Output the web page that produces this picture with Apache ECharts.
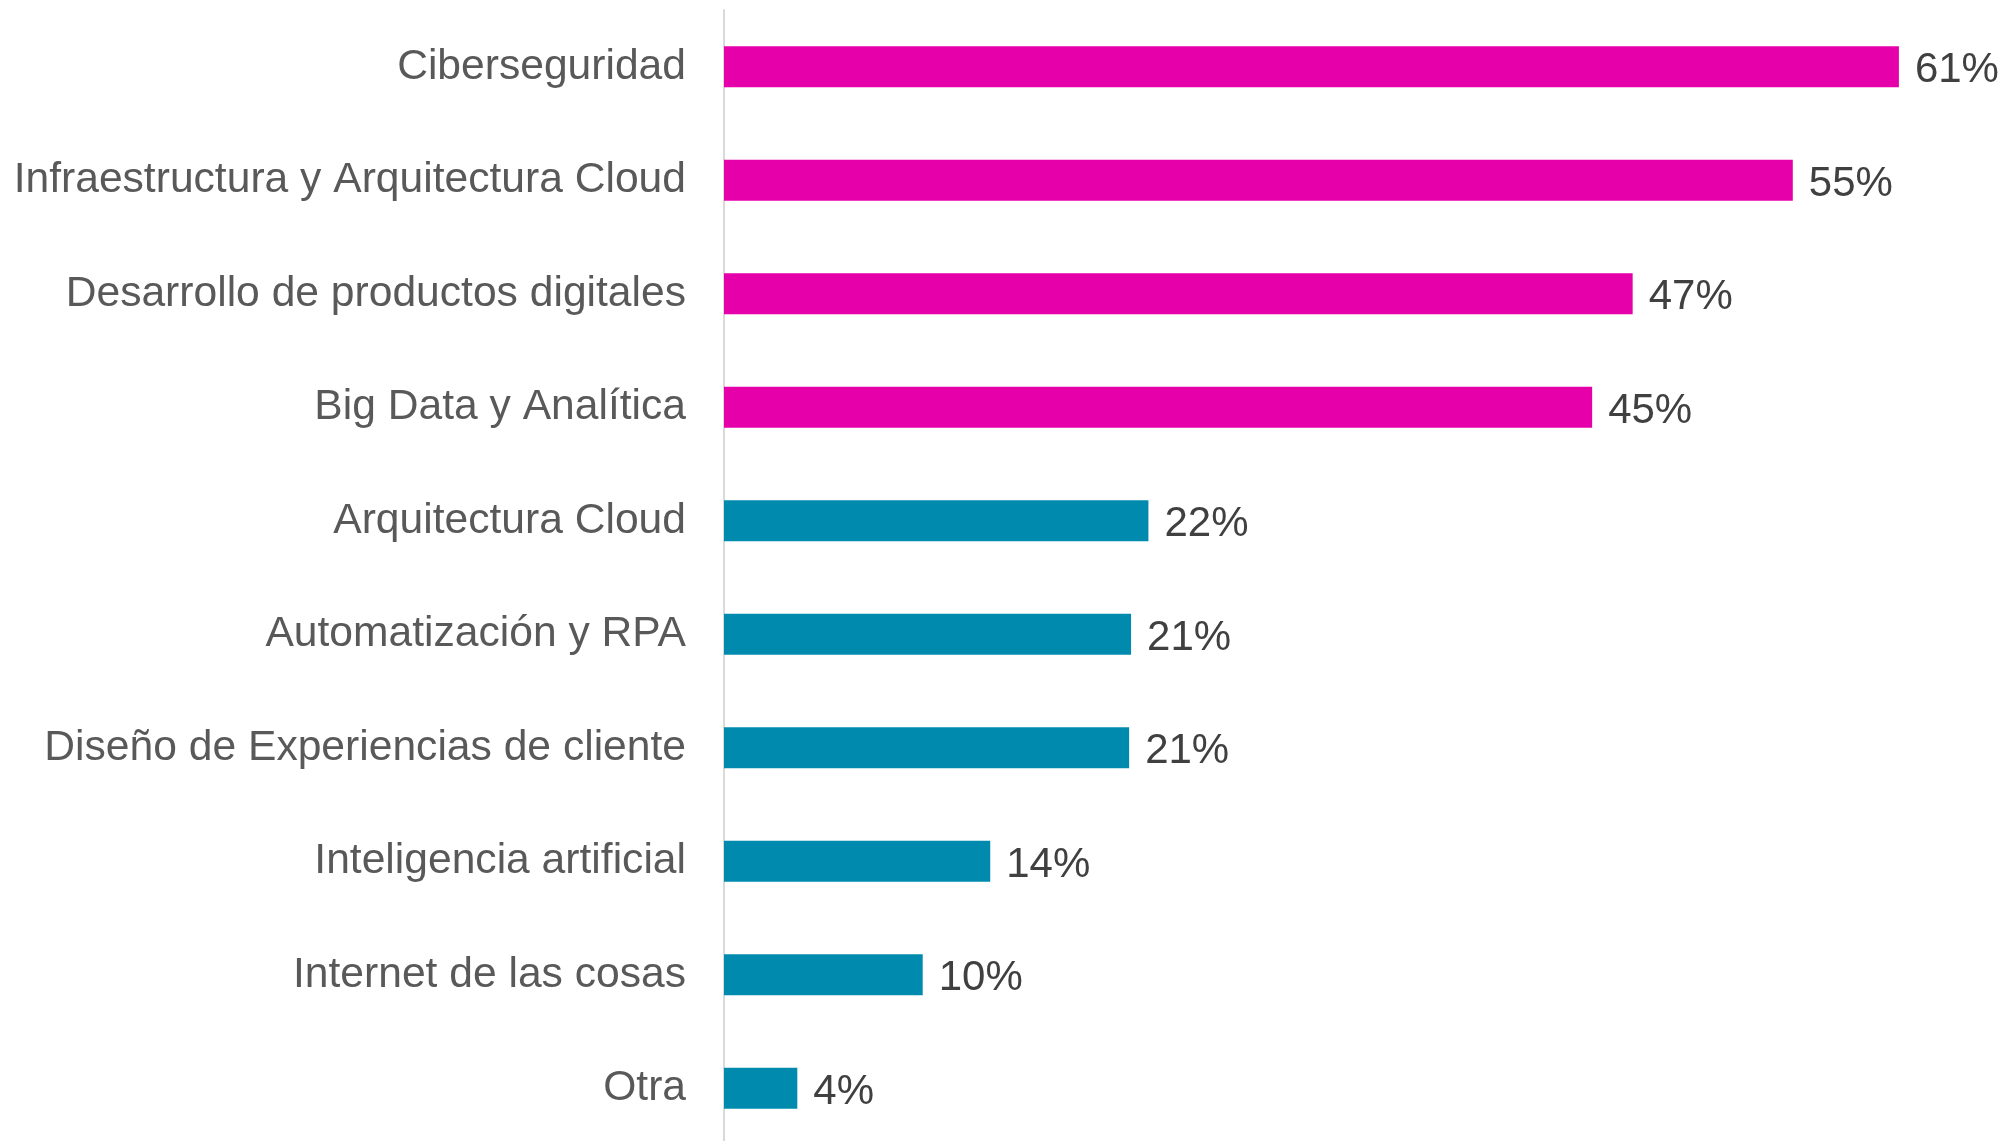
<html style="width: 100%; height: 100%">
<head>
    <meta charset="utf-8">
</head>
<script src="https://cdn.jsdelivr.net/npm/echarts@6/dist/echarts.min.js"></script>
<body style="width: 100%; height: 100%; margin: 0; background: #fff">
<div id="container" style="width: 100%; height: 100%"></div>

<script type="text/javascript">
    // categories, top to bottom
    var categories = [
        'Ciberseguridad',
        'Infraestructura y Arquitectura Cloud',
        'Desarrollo de productos digitales',
        'Big Data y Analítica',
        'Arquitectura Cloud',
        'Automatización y RPA',
        'Diseño de Experiencias de cliente',
        'Inteligencia artificial',
        'Internet de las cosas',
        'Otra'
    ];
    // share in %
    var values = [60.9, 55.4, 47.1, 45.0, 22.0, 21.1, 21.0, 13.8, 10.3, 3.8];
    // the first few bars are highlighted
    var highlighted = 4;

    var dom = document.getElementById("container");
    var myChart = echarts.init(dom);
    var font = '"Liberation Sans", Arial, sans-serif';

    var option = {
        animation: false,
        grid: {
            left: 724,
            top: 10,
            width: 1254,
            height: 1135,
            outerBoundsMode: 'none'
        },
        xAxis: {
            type: 'value',
            min: 0,
            max: 65,
            show: false,
            splitLine: {show: false}
        },
        yAxis: {
            type: 'category',
            data: categories,
            inverse: true,
            axisLine: {show: true, lineStyle: {color: '#d9d9d9', width: 2}},
            axisTick: {show: false},
            axisLabel: {
                color: '#595959',
                fontSize: 42.6,
                fontFamily: font,
                margin: 38,
                padding: [8, 0, 0, 0]
            }
        },
        series: [
            {
                type: 'bar',
                data: values,
                barWidth: 41,
                itemStyle: {
                    color: function (p) {
                        return p.dataIndex < highlighted ? '#e600a9' : '#008bae';
                    }
                },
                label: {
                    show: true,
                    position: 'right',
                    distance: 16,
                    offset: [0, 4],
                    color: '#404040',
                    fontSize: 42,
                    fontFamily: font,
                    formatter: function (p) {
                        return Math.round(p.value) + '%';
                    }
                }
            }
        ]
    };
    myChart.setOption(option);
</script>
</body>
</html>
